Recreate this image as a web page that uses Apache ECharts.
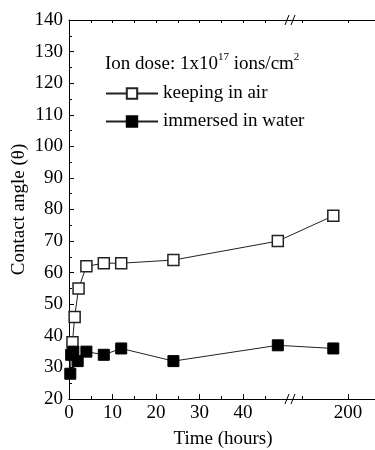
<!DOCTYPE html>
<html>
<head>
<meta charset="utf-8">
<script src="https://cdn.jsdelivr.net/npm/echarts@6/dist/echarts.min.js"></script>
<style>
  html, body { margin: 0; padding: 0; background: #fff; }
  #chart { width: 375px; height: 450px; }
</style>
</head>
<body>
<div id="chart"></div>
<script>
// Contact angle vs. time after ion implantation
const timeAir = [0.8, 1.3, 2.2, 4, 8, 12, 24, 48, 184];
const angleAir = [38, 46, 55, 62, 63, 63, 64, 70, 78];
const timeWater = [0.3, 0.5, 1, 2, 4, 8, 12, 24, 48, 184];
const angleWater = [28, 34, 35, 32, 35, 34, 36, 32, 37, 36];
const xMajorTicks = [0, 10, 20, 30, 40, 200];
const xMinorTicks = [5, 15, 25, 35, 45, 150];
const xTopTicks = [5, 10, 15, 20, 25, 30, 35, 40, 45, 150, 200];

// Broken time axis: 0-50 h linear, then a compressed segment from 150 h on
const SEG1_END = 50;
const SEG2_START = 150;
const SEG2_AXIS = 53.56;
const SEG2_SCALE = 0.2116;
const BREAK_AT = 50.8;
function toAxis(t) {
  return t <= SEG1_END ? t : SEG2_AXIS + (t - SEG2_START) * SEG2_SCALE;
}
function fromAxis(u) {
  return u <= SEG1_END + 0.5 ? u : Math.round(SEG2_START + (u - SEG2_AXIS) / SEG2_SCALE);
}

const FONT = 'Liberation Serif';
const FS = 19;
const chart = echarts.init(document.getElementById('chart'), null, { renderer: 'canvas' });

const baseX = {
  type: 'value', min: 0, max: 70.8, gridIndex: 0,
  axisLine: { show: true, lineStyle: { color: '#000', width: 1 } },
  splitLine: { show: false }
};

chart.setOption({
  animation: false,
  backgroundColor: '#fff',
  title: {
    left: 105, top: 52, padding: 0,
    text: '{a|Ion dose: 1x10}{s|17}{a| ions/cm}{s|2}',
    textStyle: {
      fontWeight: 'normal',
      rich: {
        a: { fontFamily: FONT, fontSize: FS, fontWeight: 'normal', color: '#000', lineHeight: 22, verticalAlign: 'bottom' },
        s: { fontFamily: FONT, fontSize: 11, fontWeight: 'normal', color: '#000', lineHeight: 22, verticalAlign: 'top' }
      }
    }
  },
  legend: {
    left: 105, top: 84, orient: 'vertical', padding: 0,
    itemWidth: 52, itemHeight: 13, itemGap: 9,
    textStyle: { fontFamily: FONT, fontSize: FS, color: '#000' },
    data: ['keeping in air', 'immersed in water']
  },
  grid: { left: 69, top: 20, width: 308, bottom: 51, containLabel: false, outerBoundsMode: 'none' },
  xAxis: [
    Object.assign({}, baseX, {
      position: 'bottom',
      name: 'Time (hours)', nameLocation: 'middle', nameGap: 31,
      nameTextStyle: { fontFamily: FONT, fontSize: FS, color: '#000' },
      axisTick: { show: true, inside: true, length: 5, customValues: xMajorTicks.map(toAxis), lineStyle: { color: '#000' } },
      axisLabel: {
        show: true, margin: 5, customValues: xMajorTicks.map(toAxis),
        fontFamily: FONT, fontSize: FS, color: '#000',
        formatter: (u) => String(fromAxis(u))
      }
    }),
    Object.assign({}, baseX, {
      position: 'bottom',
      axisTick: { show: true, inside: true, length: 3, customValues: xMinorTicks.map(toAxis), lineStyle: { color: '#000' } },
      axisLabel: { show: false }
    }),
    Object.assign({}, baseX, {
      position: 'top',
      axisTick: { show: true, inside: true, length: 3, customValues: xTopTicks.map(toAxis), lineStyle: { color: '#000' } },
      axisLabel: { show: false }
    })
  ],
  yAxis: {
    type: 'value', min: 20, max: 140, interval: 10,
    name: 'Contact angle (θ)', nameLocation: 'middle', nameGap: 40, nameMoveOverlap: false,
    nameTextStyle: { fontFamily: FONT, fontSize: FS, color: '#000' },
    axisLine: { show: true, lineStyle: { color: '#000', width: 1 } },
    axisTick: { show: true, inside: true, length: 5, lineStyle: { color: '#000' } },
    minorTick: { show: true, splitNumber: 2, length: 3, lineStyle: { color: '#000' } },
    axisLabel: { margin: 6, fontFamily: FONT, fontSize: FS, color: '#000' },
    splitLine: { show: false }
  },
  series: [
    {
      name: 'keeping in air', type: 'line',
      data: timeAir.map((t, i) => [toAxis(t), angleAir[i]]),
      symbol: 'rect', symbolSize: 11,
      lineStyle: { color: '#222', width: 1 },
      itemStyle: { color: '#fff', borderColor: '#222', borderWidth: 1.5 }
    },
    {
      name: 'immersed in water', type: 'line',
      data: timeWater.map((t, i) => [toAxis(t), angleWater[i]]),
      symbol: 'rect', symbolSize: 11,
      lineStyle: { color: '#222', width: 1 },
      itemStyle: { color: '#000', borderColor: '#000', borderWidth: 1 }
    }
  ]
});

// "//" break markers on the top and bottom axis lines
function breakMark(y) {
  const x = chart.convertToPixel({ xAxisIndex: 0 }, BREAK_AT);
  return {
    type: 'group', x: x, y: y, z: 100,
    children: [
      { type: 'rect', shape: { x: -4, y: -2, width: 8, height: 4 }, style: { fill: '#fff' } },
      { type: 'line', shape: { x1: -5, y1: 5, x2: -1, y2: -5 }, style: { stroke: '#000', lineWidth: 1 } },
      { type: 'line', shape: { x1: 1, y1: 5, x2: 5, y2: -5 }, style: { stroke: '#000', lineWidth: 1 } }
    ]
  };
}
const yTop = chart.convertToPixel({ yAxisIndex: 0 }, 140);
const yBottom = chart.convertToPixel({ yAxisIndex: 0 }, 20);
chart.setOption({ graphic: [breakMark(yTop), breakMark(yBottom)] });
</script>
</body>
</html>
